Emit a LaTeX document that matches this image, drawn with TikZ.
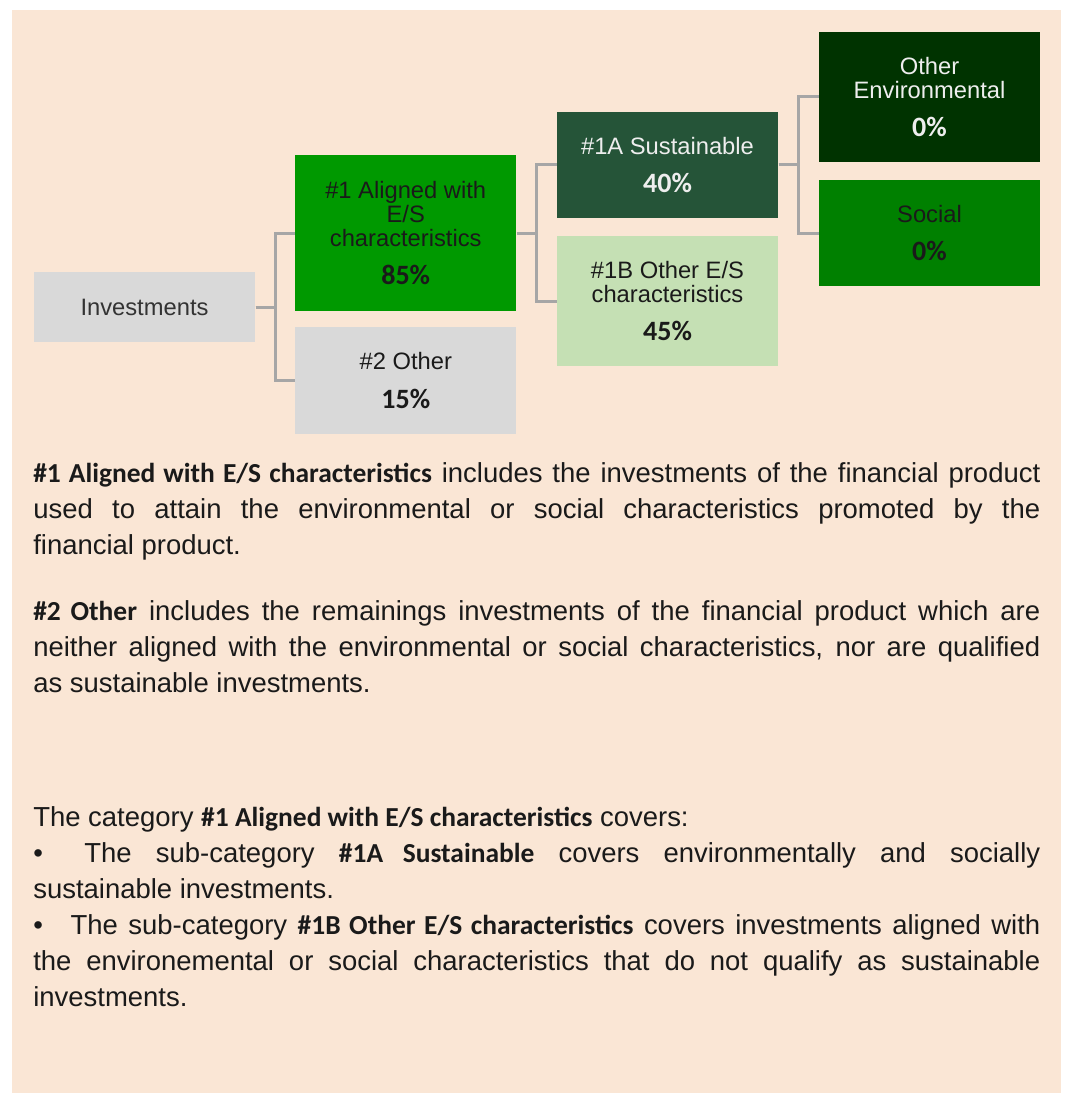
\documentclass[tikz,border=0pt]{standalone}
\usepackage{fontspec}
\setmainfont{Liberation Sans}
\newfontfamily\cali{Carlito}
\usetikzlibrary{positioning}

\definecolor{peach}{RGB}{250,230,213}
\definecolor{gry}{RGB}{217,217,217}
\definecolor{lnk}{RGB}{166,166,166}
\definecolor{grnA}{RGB}{0,153,0}
\definecolor{grnS}{RGB}{37,84,56}
\definecolor{grnL}{RGB}{197,224,180}
\definecolor{grnD}{RGB}{0,51,0}
\definecolor{grnM}{RGB}{0,128,0}
\definecolor{txt}{RGB}{26,26,26}
\definecolor{lite}{RGB}{238,238,238}

\newcommand{\pct}[1]{{\cali\bfseries\fontsize{21}{18}\selectfont #1}}
\newcommand{\bld}[1]{{\cali\bfseries #1}}
\tolerance=9999
\hyphenpenalty=10000

\begin{document}
\begin{tikzpicture}[x=0.75pt, y=-0.75pt,
    box/.style={minimum width=166.1pt, inner sep=0pt, align=center, text=txt,
        font=\fontsize{17.8}{18}\selectfont},
    link/.style={draw=lnk, line width=2.25pt},
    para/.style={anchor=base west, inner sep=0pt, text width=755.25pt, align=justify,
        text=txt, font=\fontsize{20.6}{27}\selectfont}]
    \fill[white](0, 0) rectangle (1066, 1095);
    \useasboundingbox(0, 0) rectangle (1066, 1095);
    \fill[peach](12, 10) rectangle (1061, 1093);
    % tree of boxes
    \node[box, fill=gry, minimum height=52.5pt, text={rgb,255:red,51;green,51;blue,51}] (inv) at (144.5, 307){Investments};
    \node[box, fill=grnA, minimum height=116.6pt] (al) at (405.75, 233){\#1 Aligned with\\E/S\\characteristics\\[11pt]\pct{85\%}};
    \node[box, fill=gry, minimum height=80.25pt] (oth) at (405.75, 380.5){\#2 Other\\[11pt]\pct{15\%}};
    \node[box, fill=grnS, minimum height=79.5pt, text=lite] (sus) at (667.5, 165){\#1A Sustainable\\[11pt]\pct{40\%}};
    \node[box, fill=grnL, minimum height=97.5pt] (oes) at (667.5, 301){\#1B Other E/S\\characteristics\\[11pt]\pct{45\%}};
    \node[box, fill=grnD, minimum height=97.5pt, text=lite] (env) at (929.5, 97){Other\\Environmental\\[11pt]\pct{0\%}};
    \node[box, fill=grnM, minimum height=79.5pt] (soc) at (929.5, 233){Social\\[11pt]\pct{0\%}};
    \draw[link](inv.east) -- ++(20, 0) |- (al.west);
    \draw[link](inv.east) -- ++(20, 0) |- (oth.west);
    \draw[link](al.east) -- ++(20, 0) |- (sus.west);
    \draw[link](al.east) -- ++(20, 0) |- (oes.west);
    \draw[link](sus.east) -- ++(20, 0) |- (env.west);
    \draw[link](sus.east) -- ++(20, 0) |- (soc.west);
    % explanations
    \node[para] (p1) at (33, 482){\bld{\#1 Aligned with E/S characteristics} includes the investments of the financial product \linebreak used to attain the environmental or social characteristics promoted by the \linebreak financial product.};
    \node[para] (p2) at (33, 620){\bld{\#2 Other} includes the remainings investments of the financial product which are \linebreak neither aligned with the environmental or social characteristics, nor are qualified \linebreak as sustainable investments.};
    \node[para] (p3) at (33, 826){The category \bld{\#1 Aligned with E/S characteristics} covers:\par
        •\hspace{13pt} The sub-category \bld{\#1A Sustainable} covers environmentally and socially \linebreak sustainable investments.\par
        •\hspace{13pt} The sub-category \bld{\#1B Other E/S characteristics} covers investments aligned with \linebreak the environemental or social characteristics that do not qualify as sustainable \linebreak investments.};
\end{tikzpicture}
\end{document}
